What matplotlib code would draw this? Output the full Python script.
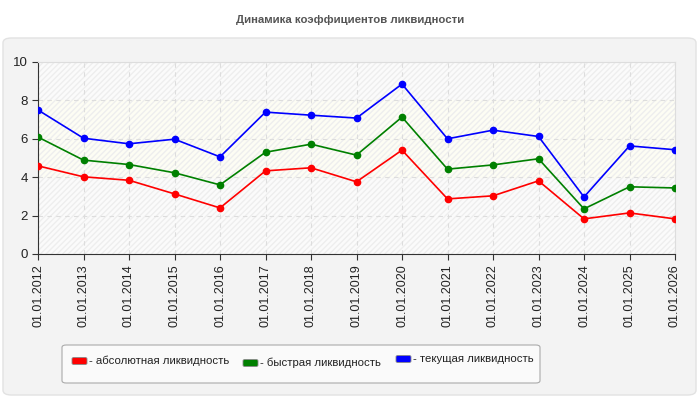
import matplotlib.pyplot as plt
from matplotlib.patches import FancyBboxPatch

plt.rcParams['font.family'] = ['Liberation Sans', 'DejaVu Sans']

dates = ['01.01.2012', '01.01.2013', '01.01.2014', '01.01.2015', '01.01.2016',
         '01.01.2017', '01.01.2018', '01.01.2019', '01.01.2020', '01.01.2021',
         '01.01.2022', '01.01.2023', '01.01.2024', '01.01.2025', '01.01.2026']

absolute = [4.59, 4.02, 3.84, 3.13, 2.40, 4.33, 4.49, 3.76, 5.41, 2.87, 3.03, 3.81, 1.83, 2.14, 1.83]
quick = [6.09, 4.89, 4.66, 4.23, 3.60, 5.30, 5.72, 5.15, 7.13, 4.42, 4.64, 4.96, 2.35, 3.50, 3.44]
current = [7.50, 6.03, 5.74, 5.98, 5.06, 7.39, 7.23, 7.08, 8.85, 6.00, 6.45, 6.12, 2.97, 5.63, 5.43]

names = ['- абсолютная ликвидность', '- быстрая ликвидность', '- текущая ликвидность']
colors = ['#ff0000', '#008000', '#0000ff']

fig = plt.figure(figsize=(7, 4), dpi=100, facecolor='white')

# outer panel
panel = FancyBboxPatch((3 / 700, 5 / 400), 693 / 700, 357 / 400,
                       boxstyle='round,pad=0,rounding_size=0.012',
                       transform=fig.transFigure, facecolor='#f3f3f3',
                       edgecolor='#e2e2e2', linewidth=1, zorder=-10)
fig.patches.append(panel)

fig.text(0.5, 1 - 20 / 400, 'Динамика коэффициентов ликвидности', ha='center', va='center',
         fontsize=8.2, fontweight='bold', color='#555555')

ax = fig.add_axes([38 / 700, 1 - 254 / 400, 637 / 700, 192 / 400])
ax.set_facecolor('#fbfbfb')
x = list(range(len(dates)))
ax.set_xlim(0, len(dates) - 1)
ax.set_ylim(0, 10)

ax.axhspan(4, 8, color='#fdfdf4', zorder=0)
ax.fill_between([0, len(dates) - 1], 0, 10, facecolor='none', hatch='//////',
                edgecolor='#eeeeee', linewidth=0, zorder=0)

ax.grid(True, linestyle=(0, (4, 4)), color='#dddddd', linewidth=0.8)
ax.set_axisbelow(True)

for vals, c in zip([absolute, quick, current], colors):
    ax.plot(x, vals, color=c, linewidth=1.2, marker='o', markersize=4.5, zorder=3)

ax.set_xticks(x)
ax.set_xticklabels(dates, rotation=90, fontsize=9, color='#222222')
ax.set_yticks([0, 2, 4, 6, 8, 10])
ax.tick_params(axis='y', labelsize=9.5, labelcolor='#222222', length=4, color='#333333')
ax.tick_params(axis='x', length=4, color='#333333')
for s in ['left', 'bottom']:
    ax.spines[s].set_color('#333333')
for s in ['top', 'right']:
    ax.spines[s].set_color('#dddddd')

# legend box
leg = FancyBboxPatch((62 / 700, 1 - 383 / 400), 478 / 700, 38 / 400,
                     boxstyle='round,pad=0,rounding_size=0.006',
                     transform=fig.transFigure, facecolor='#fafafa',
                     edgecolor='#aaaaaa', linewidth=0.8)
fig.patches.append(leg)

leg_x = [72, 243, 396]
leg_y = [361, 363, 359]
for name, c, lx, ly in zip(names, colors, leg_x, leg_y):
    box = FancyBboxPatch((lx / 700, 1 - (ly + 3.5) / 400), 15 / 700, 7 / 400,
                         boxstyle='round,pad=0,rounding_size=0.003',
                         transform=fig.transFigure, facecolor=c,
                         edgecolor='#888888', linewidth=0.6)
    fig.patches.append(box)
    fig.text((lx + 17) / 700, 1 - ly / 400, name, ha='left', va='center',
             fontsize=8.2, color='#222222')

fig.savefig('out.png', dpi=100, facecolor='white')
